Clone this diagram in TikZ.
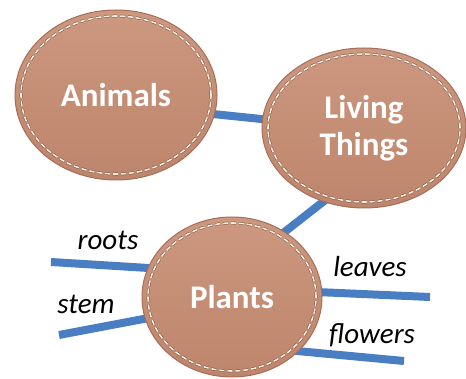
\documentclass[tikz,border=0pt]{standalone}
\usepackage{fontspec}
\setmainfont{Carlito}
\usetikzlibrary{shapes.geometric,backgrounds}
\definecolor{leatherhi}{HTML}{CC987F}
\definecolor{leatherlo}{HTML}{BD856C}
\definecolor{leatheredge}{HTML}{A56E5A}
\definecolor{thread}{HTML}{FAEEE2}
\definecolor{branchblue}{HTML}{4A7EC3}

\begin{document}
\begin{tikzpicture}[x=1pt, y=-1pt,
  leather/.style={ellipse, draw=leatheredge, line width=1pt, top color=leatherhi, bottom color=leatherlo,
    inner sep=0pt, align=center, text=white, font=\fontsize{33}{37}\selectfont\bfseries},
  stitch/.style={draw=thread, line width=1.6pt, dash pattern=on 5pt off 3pt},
  stitchshade/.style={draw=leatheredge!70!black, line width=2.6pt, dash pattern=on 5pt off 3pt},
  branch/.style={draw=branchblue, line width=8pt, shorten <=-6pt},
  leaf/.style={font=\fontsize{29}{32}\selectfont\itshape, text=black}
]
  \useasboundingbox (0,0) rectangle (466,379);
  % concepts
  \node[leather, minimum width=202pt, minimum height=170pt] (animals) at (116,95) {Animals};
  \node[leather, minimum width=204pt, minimum height=160pt] (living) at (364,128) {Living\\Things};
  \node[leather, minimum width=180pt, minimum height=160pt] (plants) at (232,297) {Plants};
  % stitches
  \foreach \n/\rx/\ry in {animals/95/79, living/96/74, plants/84/74}{
    \draw[stitchshade] (\n.center) ellipse [x radius=\rx pt, y radius=\ry pt];
    \draw[stitch] (\n.center) ellipse [x radius=\rx pt, y radius=\ry pt];}
  % free ends of the plant parts
  \coordinate (rootsend) at (51,262);
  \coordinate (stemend) at (59,335);
  \coordinate (leavesend) at (430,297);
  \coordinate (flowersend) at (404,361);
  % connectors
  \begin{scope}[on background layer]
    \draw[branch, shorten >=-6pt] (animals.349) -- (living.175);
    \draw[branch, shorten >=-6pt] (plants.51) -- (living.241);
    \draw[branch] (plants.161) -- (rootsend);
    \draw[branch] (plants.194) -- (stemend);
    \draw[branch] (plants.3) -- (leavesend);
    \draw[branch] (plants.321) -- (flowersend);
  \end{scope}
  % labels
  \node[leaf] (roots) at (108,240) {roots};
  \node[leaf] (stem) at (86,304) {stem};
  \node[leaf] (leaves) at (370,267) {leaves};
  \node[leaf] (flowers) at (372,335) {flowers};
\end{tikzpicture}
\end{document}
